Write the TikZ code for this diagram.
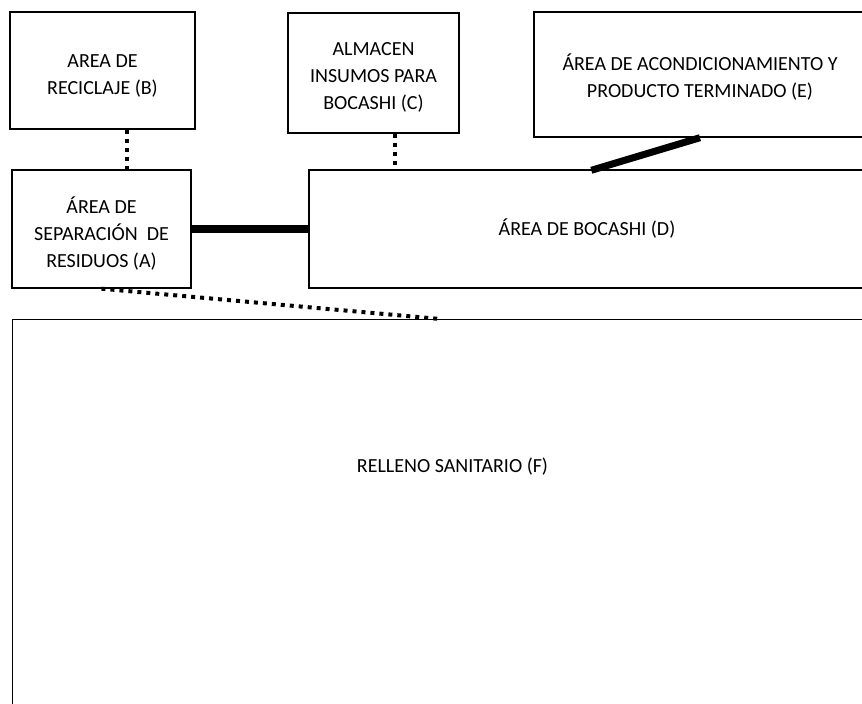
\documentclass[tikz,border=0pt]{standalone}
\usepackage{fontspec}
\setmainfont{Carlito}
\usetikzlibrary{calc}
\begin{document}
\begin{tikzpicture}[x=1pt,y=-1pt,
  box/.style={draw=black,line width=1.4pt,rectangle,inner sep=0pt},
  lbl/.style={inner sep=0pt,align=center,font=\fontsize{20}{27}\selectfont},
  dotline/.style={line width=4pt,dash pattern=on 4pt off 5pt},
  thickline/.style={line width=8pt},
]
\useasboundingbox (0,0) rectangle (862,704);
\fill[white] (0,0) rectangle (862,704);
\node[box,minimum width=185pt,minimum height=117pt,
  label={[lbl,yshift=-5.5pt]center:{AREA DE\\RECICLAJE (B)}}] (B) at (102.5,70.5) {};
\node[box,minimum width=179pt,minimum height=118pt,
  label={[lbl,yshift=-5pt]center:{ÁREA DE\\SEPARACIÓN~ DE\\RESIDUOS (A)}}] (A) at (101.5,229) {};
\node[box,minimum width=171pt,minimum height=120pt,
  label={[lbl,yshift=-4.5pt]center:{ALMACEN\\INSUMOS PARA\\BOCASHI (C)}}] (C) at (373.5,73) {};
\node[box,minimum width=332pt,minimum height=125pt,
  label={[lbl,yshift=-3pt]center:{ÁREA DE ACONDICIONAMIENTO Y\\PRODUCTO TERMINADO (E)}}] (E) at (700,74.5) {};
\node[box,minimum width=556pt,minimum height=118pt,
  label={[lbl]center:{ÁREA DE BOCASHI (D)}}] (D) at (587,229) {};
\node[box,minimum width=881pt,minimum height=420pt,anchor=north west] (F) at (12,319) {};
\node[lbl] (Ftext) at (452.5,467) {RELLENO SANITARIO (F)};
% connectors
\draw[dotline] ($(B.south west)+(118,0)$) -- ($(A.north west)+(116,0)$);
\draw[dotline] ($(C.south west)+(108,0)$) -- ($(D.north west)+(87,0)$);
\draw[dotline] (A.south) -- ($(F.north west)+(428,0)$);
\draw[thickline] (A.east) -- (D.west);
\draw[line width=7pt] (E.south) -- ($(D.north west)+(283,1)$);
\end{tikzpicture}
\end{document}
